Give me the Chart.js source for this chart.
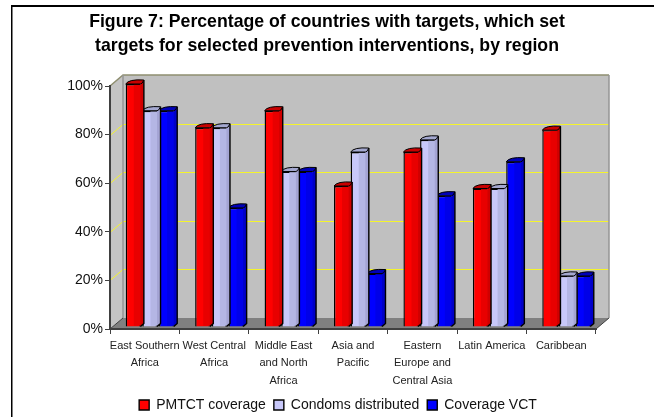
<!DOCTYPE html>
<html><head><meta charset="utf-8">
<style>html,body{margin:0;padding:0;background:#fff}canvas{display:block}</style>
<script src="https://cdn.jsdelivr.net/npm/chart.js@4"></script>
</head><body><canvas id="c" width="654" height="417"></canvas>
<script>
const categories = [
  ["East Southern","Africa"],
  ["West Central","Africa"],
  ["Middle East","and North","Africa"],
  ["Asia and","Pacific"],
  ["Eastern","Europe and","Central Asia"],
  ["Latin America"],
  ["Caribbean"]
];
const pmtct    = [100, 82, 89, 58, 72, 57, 81];
const condoms  = [89, 82, 64, 72, 77, 57, 21];
const vct      = [89, 49, 64, 22, 54, 68, 21];
const yTicks   = [0, 20, 40, 60, 80, 100];
const titleLines = ["Figure 7: Percentage of countries with targets, which set","targets for selected prevention interventions, by region"];
const FONT = "'Liberation Sans', Arial, sans-serif";
const shades = [
  {side:"#d00000", top:"#c80000", strip:"#e80000"},
  {side:"#a4a4d4", top:"#a4a8d0", strip:"#b4b6e4"},
  {side:"#0000c8", top:"#0000b8", strip:"#0000e8"}
];
const DX = 13, DY = 11;
const room = {
  id:"room",
  afterLayout(chart){
    const l=chart.legend;
    l.left+=11; l.right+=11;
    const h=l.bottom-l.top; l.top=390; l.bottom=390+h;
    chart.scales.x.bottom=chart.height;
  },
  beforeDraw(chart){
    const {ctx, chartArea:a, scales:{y}} = chart;
    ctx.save();
    ctx.fillStyle="#fff"; ctx.fillRect(0,0,chart.width,chart.height);
    ctx.fillStyle="#000";
    ctx.fillRect(11,5,chart.width-11,2);
    ctx.fillRect(11,5,1.5,chart.height-5);
    ctx.fillStyle="#c0c0c0";
    ctx.fillRect(a.left+DX,a.top-DY,a.width,a.height);
    ctx.beginPath();ctx.moveTo(a.left,a.top);ctx.lineTo(a.left+DX,a.top-DY);ctx.lineTo(a.left+DX,a.bottom-DY);ctx.lineTo(a.left,a.bottom);ctx.closePath();
    ctx.fillStyle="#c4c4c4";ctx.fill();
    ctx.beginPath();ctx.moveTo(a.left,a.bottom);ctx.lineTo(a.left+DX,a.bottom-DY);ctx.lineTo(a.right+DX,a.bottom-DY);ctx.lineTo(a.right,a.bottom);ctx.closePath();
    ctx.fillStyle="#808080";ctx.fill();
    ctx.strokeStyle="#f4f42c";ctx.lineWidth=1;
    yTicks.slice(1,-1).forEach(v=>{
      const p=Math.round(y.getPixelForValue(v))+.5;
      ctx.beginPath();ctx.moveTo(a.left,p);ctx.lineTo(a.left+DX,p-DY);ctx.lineTo(a.right+DX,p-DY);ctx.stroke();
    });
    ctx.strokeStyle="#8f8f70";ctx.lineWidth=1.5;
    ctx.beginPath();ctx.moveTo(a.left,a.top);ctx.lineTo(a.left+DX,a.top-DY);ctx.lineTo(a.right+DX,a.top-DY);ctx.stroke();
    ctx.strokeStyle="#959595";ctx.lineWidth=1.5;
    ctx.beginPath();ctx.moveTo(a.right+DX,a.top-DY);ctx.lineTo(a.right+DX,a.bottom-DY);ctx.stroke();
    ctx.beginPath();ctx.moveTo(a.left+DX,a.top-DY);ctx.lineTo(a.left+DX,a.bottom-DY);ctx.stroke();
    ctx.strokeStyle="#404040";ctx.lineWidth=1;
    ctx.beginPath();ctx.moveTo(a.right,a.bottom);ctx.lineTo(a.right+DX,a.bottom-DY);ctx.stroke();
    ctx.beginPath();ctx.moveTo(a.left,a.bottom);ctx.lineTo(a.left+DX,a.bottom-DY);ctx.stroke();
    ctx.restore();
  },
  beforeDatasetDraw(chart){
    chart.ctx.save();
    chart.ctx.translate(5,-2);
  },
  afterDatasetDraw(chart,args){
    const ctx=chart.ctx, s=shades[args.index], d=3.5, e=4;
    ctx.strokeStyle="#000";ctx.lineJoin="round";
    args.meta.data.forEach(el=>{
      const p=el.getProps(["x","y","base","width"],true);
      const l=p.x-p.width/2,r=p.x+p.width/2,t=p.y,b=p.base;
      ctx.lineWidth=1.4;
      ctx.fillStyle=s.strip;ctx.fillRect(l+p.width*.55,t+.7,p.width*.45+1,b-t-1.4);
      ctx.fillStyle=s.side;
      ctx.beginPath();ctx.moveTo(r,t);ctx.lineTo(r+d,t-e);ctx.lineTo(r+d,b-3);ctx.lineTo(r,b);ctx.closePath();ctx.fill();
      ctx.beginPath();ctx.moveTo(r+d,t-e);ctx.lineTo(r+d,b-3);ctx.lineTo(r,b);ctx.stroke();
      ctx.lineWidth=1;
      ctx.beginPath();ctx.moveTo(l,t);ctx.quadraticCurveTo(l+3,t-e-1,r+d,t-e);ctx.quadraticCurveTo(r+1.5,t+.5,r,t);ctx.closePath();
      ctx.fillStyle=s.top;ctx.fill();ctx.stroke();
    });
    ctx.restore();
  }
};
new Chart(document.getElementById("c"),{
  type:"bar",
  plugins:[room],
  data:{labels:categories,datasets:[
    {label:"PMTCT coverage",data:pmtct,backgroundColor:"#ff0000",borderColor:"#000",borderWidth:1.4},
    {label:"Condoms distributed",data:condoms,backgroundColor:"#c8c8fa",borderColor:"#000",borderWidth:1.4},
    {label:"Coverage VCT",data:vct,backgroundColor:"#0000ff",borderColor:"#000",borderWidth:1.4}
  ]},
  options:{
    responsive:false,animation:false,devicePixelRatio:1,
    categoryPercentage:.72,barPercentage:.88,
    layout:{padding:0},
    plugins:{
      tooltip:{enabled:false},
      title:{display:true,text:titleLines,color:"#000",font:{family:FONT,size:17.7,weight:"bold",lineHeight:1.356},padding:{top:10,bottom:28}},
      legend:{position:"bottom",labels:{font:{family:FONT,size:14},color:"#111",boxWidth:10,boxHeight:10,padding:8}}
    },
    scales:{
      x:{
        afterFit(s){s.height=56;},
        grid:{drawOnChartArea:false,color:"#404040",tickLength:5,offset:true},
        border:{color:"#404040",width:2},
        ticks:{autoSkip:false,maxRotation:0,minRotation:0,padding:3,color:"#222",font:{family:FONT,size:11,lineHeight:1.6}}
      },
      y:{
        min:0,max:100,
        afterFit(s){s.width=110;},
        afterBuildTicks(s){s.ticks=yTicks.map(v=>({value:v}));},
        grid:{drawOnChartArea:false,color:"#404040",tickLength:5},
        border:{color:"#404040",width:2},
        ticks:{padding:2,color:"#111",font:{family:FONT,size:14},callback:v=>v+"%"}
      },
      spacer:{
        position:"right",min:0,max:1,
        afterFit(s){s.width=58;},
        grid:{display:false},border:{display:false},ticks:{display:false}
      }
    }
  }
});
</script></body></html>
